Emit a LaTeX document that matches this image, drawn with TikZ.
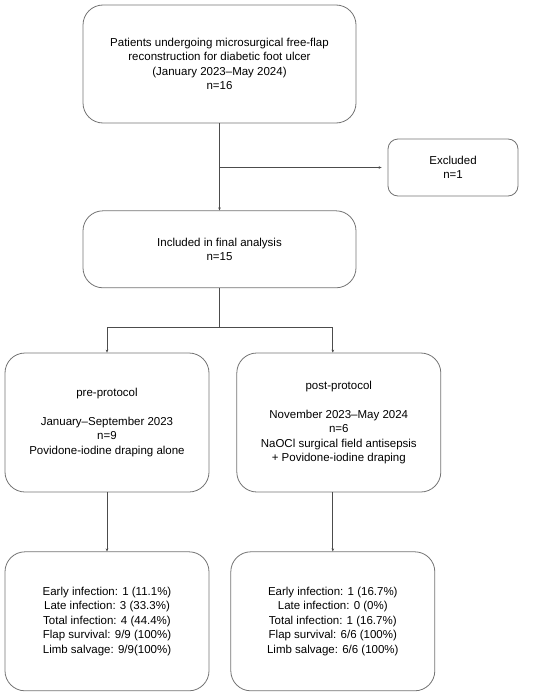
\documentclass[tikz,border=0pt]{standalone}
\usepackage{fontspec}
\setmainfont{Liberation Sans}
\usetikzlibrary{positioning,arrows.meta}

\tikzset{
	box/.style={draw=black!55, line width=0.8pt, rounded corners=20pt, align=center,
		font=\fontsize{11.5}{14.5}\selectfont, inner sep=0pt},
	smallbox/.style={box, rounded corners=10pt},
	link/.style={draw=black!70, line width=0.8pt},
	arrow/.style={link, -{Stealth[length=3pt,width=2.6pt]}},
}

\begin{document}
\begin{tikzpicture}[x=1pt,y=1pt]
	\useasboundingbox (0,0) rectangle (550,-696);

	\node[box, minimum width=273pt, minimum height=118pt] (patients) at (219.5,-64)
		{Patients undergoing microsurgical free-flap\\reconstruction for diabetic foot ulcer\\(January 2023--May 2024)\\n=16};
	\node[smallbox, minimum width=130pt, minimum height=57pt] (excluded) at (453,-167.5)
		{Excluded\\n=1};
	\node[box, minimum width=273pt, minimum height=77pt, below=87pt of patients] (included)
		{Included in final analysis\\n=15};
	\node[box, minimum width=204pt, minimum height=139pt] (pre) at (107,-422.5)
		{pre-protocol\\[14.5pt]January--September 2023\\n=9\\Povidone-iodine draping alone};
	\node[box, minimum width=204pt, minimum height=139pt, right=27pt of pre] (post)
		{post-protocol\\[14.5pt]November 2023--May 2024\\n=6\\NaOCl surgical field antisepsis\\+ Povidone-iodine draping};
	\node[box, minimum width=204pt, minimum height=139pt, below=59pt of pre] (preout)
		{Early infection: 1 (11.1\%)\\Late infection: 3 (33.3\%)\\Total infection: 4 (44.4\%)\\Flap survival: 9/9 (100\%)\\Limb salvage: 9/9(100\%)};
	\node[box, minimum width=204pt, minimum height=139pt, right=21pt of preout] (postout)
		{Early infection: 1 (16.7\%)\\Late infection: 0 (0\%)\\Total infection: 1 (16.7\%)\\Flap survival: 6/6 (100\%)\\Limb salvage: 6/6 (100\%)};

	\coordinate (split) at (patients.south |- excluded.west);
	\coordinate (fork) at (219.5,-327);
	\coordinate (postin) at (postout.north |- post.north);
	\coordinate (postbot) at (postout.north |- post.south);

	\draw[arrow] (patients) -- (included);
	\draw[arrow, shorten >=6pt] (split) -- (excluded.west);
	\draw[link] (included) -- (fork);
	\draw[arrow] (fork) -| (pre.north);
	\draw[arrow] (fork) -| (postin);
	\draw[arrow] (pre) -- (preout);
	\draw[arrow] (postbot) -- (postout);

\end{tikzpicture}
\end{document}
